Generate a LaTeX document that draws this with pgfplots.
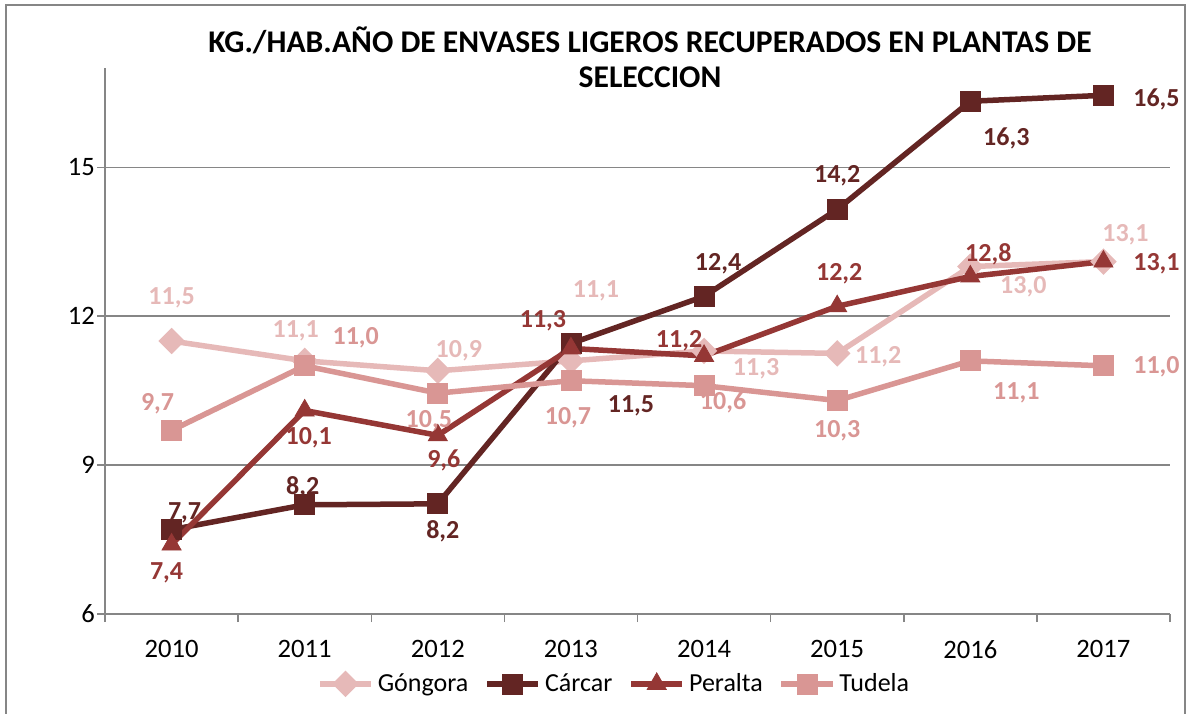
\documentclass[border=0pt]{standalone}
\usepackage{pgfplots}
\pgfplotsset{compat=1.18}
\usepackage{pgfplotstable}
\usepackage{fontspec}
\setmainfont{Carlito}
\definecolor{cgon}{HTML}{E6B9B8}
\definecolor{ccar}{HTML}{632523}
\definecolor{cper}{HTML}{953735}
\definecolor{ctud}{HTML}{D99694}
\definecolor{cgrid}{HTML}{868686}

\pgfplotstableread{
x y lab dx dy
2010 11.5 11,5 0 43
2011 11.1 11,1 -9 30
2012 10.9 10,9 21 20
2013 11.1 11,1 25 70
2014 11.3 11,3 52 -18
2015 11.25 11,2 41 -3
2016 13.0 13,0 53 -20
2017 13.1 13,1 22 27
}\gongora
\pgfplotstableread{
x y lab dx dy
2010 7.7 7,7 13 17
2011 8.2 8,2 -2 18
2012 8.22 8,2 5 -27
2013 11.45 11,5 60 -62
2014 12.4 12,4 14 33
2015 14.15 14,2 0 34
2016 16.33 16,3 36 -37
2017 16.45 16,5 53 -4
}\carcar
\pgfplotstableread{
x y lab dx dy
2010 7.4 7,4 -5 -28
2011 10.1 10,1 4 -27
2012 9.6 9,6 6 -25
2013 11.35 11,3 -28 28
2014 11.2 11,2 -25 15
2015 12.2 12,2 2 33
2016 12.8 12,8 18 22
2017 13.1 13,1 53 -2
}\peralta
\pgfplotstableread{
x y lab dx dy
2010 9.7 9,7 -14 27
2011 11.0 11,0 51 28
2012 10.45 10,5 -9 -28
2013 10.7 10,7 -3 -37
2014 10.6 10,6 19 -17
2015 10.3 10,3 0 -30
2016 11.1 11,1 46 -32
2017 11.0 11,0 53 -1
}\tudela

\pgfplotsset{
  lab/.style={
    nodes near coords,
    point meta=explicit symbolic,
    visualization depends on={\thisrow{dx}\as\labdx},
    visualization depends on={\thisrow{dy}\as\labdy},
    every node near coord/.append style={anchor=center, inner sep=0pt,
      xshift=\labdx*0.5pt, yshift=\labdy*0.5pt,
      font=\bfseries\fontsize{13}{15}\selectfont},
  },
  ser/.style={color=#1, line width=2.75pt, mark options={solid, line width=0.4pt, fill=#1}},
}

\begin{document}
\begin{tikzpicture}
\useasboundingbox (0,0) rectangle (596pt,-356.5pt);
\draw[cgrid, line width=0.75pt] (3pt,-360pt) -- (3pt,-2.5pt) -- (592.5pt,-2.5pt) -- (592.5pt,-360pt);
\begin{axis}[
  at={(52.5pt,-307pt)}, anchor=south west,
  scale only axis, width=532.5pt, height=273pt,
  xmin=2009.5, xmax=2017.5, ymin=6, ymax=17,
  ytick={6,9,12,15},
  xtick={2009.5,2010.5,2011.5,2012.5,2013.5,2014.5,2015.5,2016.5,2017.5},
  x tick label as interval,
  xticklabels={2010,2011,2012,2013,2014,2015,2016,2017},
  axis x line*=bottom, axis y line*=left,
  axis line style={-, draw=cgrid, line width=0.75pt},
  ymajorgrids, grid style={cgrid, line width=0.75pt},
  tick align=outside, major tick length=4pt,
  tick style={cgrid, line width=0.75pt},
  tick label style={font=\fontsize{13.3}{15}\selectfont, text=black},
  xticklabel style={yshift=-5.5pt},
  yticklabel style={xshift=2.5pt},
  /pgf/number format/assume math mode=true,
  clip=false,
  legend style={at={(0.479,-0.128)}, anchor=center, draw=none, fill=none,
    legend columns=4, font=\fontsize{13}{15}\selectfont,
    /tikz/every even column/.append style={column sep=6pt}},
  legend image code/.code={\draw[mark repeat=2,mark phase=2] plot coordinates {(0cm,0cm) (0.45cm,0cm) (0.9cm,0cm)};},
]
\addplot[ser=cgon, mark=square*, mark size=3.3pt, mark options={rotate=45}, lab] table[x=x,y=y,meta=lab]{\gongora};
\addplot[ser=ccar, mark=square*, mark size=5pt, lab] table[x=x,y=y,meta=lab]{\carcar};
\addplot[ser=cper, mark=triangle*, mark size=5.5pt, lab] table[x=x,y=y,meta=lab]{\peralta};
\addplot[ser=ctud, mark=square*, mark size=5pt, lab] table[x=x,y=y,meta=lab]{\tudela};
\legend{Góngora, Cárcar, Peralta, Tudela}
\end{axis}
\node[font=\bfseries\fontsize{15.8}{17.5}\selectfont, align=center] at (325pt,-28.75pt)
  {KG./HAB.AÑO DE ENVASES LIGEROS RECUPERADOS EN PLANTAS DE\\SELECCION};
\end{tikzpicture}
\end{document}
